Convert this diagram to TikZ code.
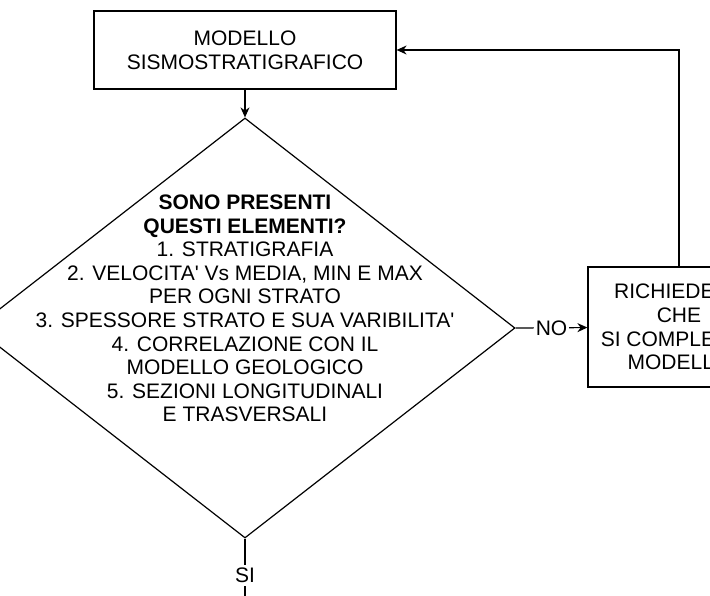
\documentclass[tikz,border=0pt]{standalone}
\usepackage{fontspec}
\setmainfont{Liberation Sans}
\usetikzlibrary{shapes.geometric,arrows.meta}

\begin{document}
\begin{tikzpicture}[x=1pt,y=-1pt,line width=1.2pt,
  box/.style={draw,align=center,inner sep=0pt,font=\fontsize{21}{23.6}\selectfont},
  rombo/.style={draw,diamond,inner sep=0pt,minimum width=540pt,minimum height=420pt},
  scritta/.style={fill=white,inner sep=1.5pt,font=\fontsize{21}{23.6}\selectfont},
  freccia/.style={-{Stealth[length=10pt,width=9pt]}}]
\clip (0,0) rectangle (710,595);
\fill[white] (0,0) rectangle (710,595);

\node[box,minimum width=302pt,minimum height=78pt] (modello) at (245,50) {MODELLO\\SISMOSTRATIGRAFICO};
\node[rombo] (domanda) at (245,328) {};
\node[align=center,font=\fontsize{21}{23.6}\selectfont] (elenco) at (245,308.5)
  {\textbf{SONO PRESENTI}\\\textbf{QUESTI ELEMENTI?}\\1. STRATIGRAFIA\\2. VELOCITA\textquotesingle{} Vs MEDIA, MIN E MAX\\PER OGNI STRATO\\3. SPESSORE STRATO E SUA VARIBILITA\textquotesingle\\4. CORRELAZIONE CON IL\\MODELLO GEOLOGICO\\5. SEZIONI LONGITUDINALI\\E TRASVERSALI};
\node[box,minimum width=182pt,minimum height=120pt] (richiesta) at (679,327) {RICHIEDERE\\CHE\\SI COMPLETI IL\\MODELLO};
\coordinate (seguito) at (245,612);

\draw[freccia] (modello) -- (domanda);
\draw[freccia] (domanda.east) -- node[scritta]{NO} (richiesta);
\draw[freccia] (richiesta.north) |- (modello.east);
\draw (domanda.south) -- node[scritta,inner sep=3pt]{SI} (seguito);

\end{tikzpicture}
\end{document}
